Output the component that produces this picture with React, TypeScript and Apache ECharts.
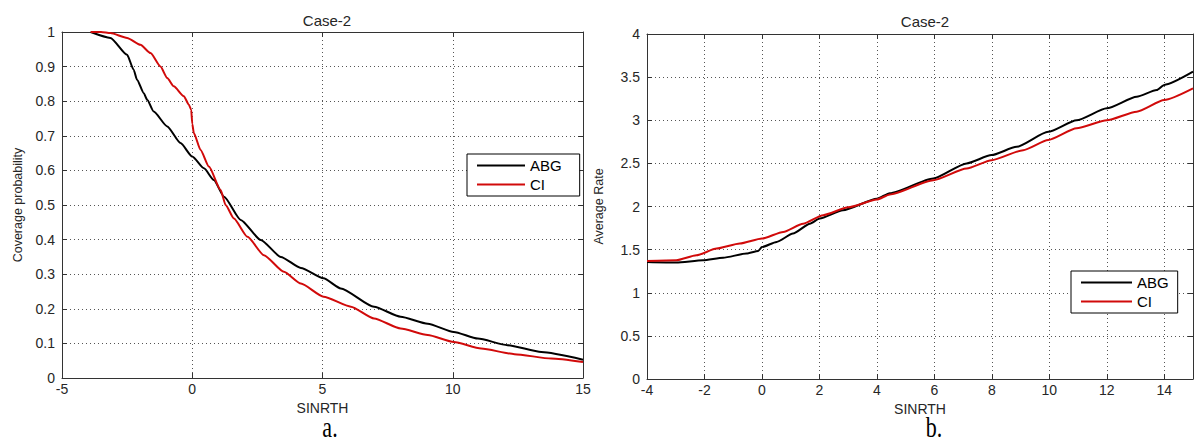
import React, { useEffect, useRef } from "react";
import * as echarts from "echarts";

// ---- Chart a: Coverage probability vs SINRTH ----
const covAbgX = [-3.9, -3.14, -2.5, -2.25, -2.12, -1.86, -1.73, -1.48, -0.96, -0.45, 0, 0.45, 0.83, 1.22, 1.86, 2.63, 3.4, 4.17, 5.04, 5.7, 6.98, 8.0, 9.04, 10.04, 10.96, 12.1, 13.4, 15];
const covAbgY = [1.0, 0.983, 0.934, 0.891, 0.862, 0.823, 0.804, 0.77, 0.727, 0.679, 0.64, 0.606, 0.572, 0.524, 0.457, 0.399, 0.35, 0.318, 0.288, 0.259, 0.206, 0.177, 0.157, 0.133, 0.114, 0.095, 0.075, 0.053];
const covCiX = [-3.9, -3.5, -3.14, -2.5, -1.99, -1.6, -1.22, -0.96, -0.71, -0.32, -0.13, -0.04, 0, 0.06, 0.32, 0.64, 1.09, 1.28, 1.6, 2.12, 2.75, 3.52, 4.17, 5.04, 6.09, 6.98, 8.0, 9.04, 10.04, 11.09, 12.37, 13.78, 15];
const covCiY = [1.0, 1.0, 0.997, 0.983, 0.963, 0.939, 0.9, 0.867, 0.843, 0.814, 0.79, 0.775, 0.735, 0.708, 0.659, 0.611, 0.543, 0.5, 0.461, 0.408, 0.355, 0.307, 0.273, 0.235, 0.206, 0.172, 0.143, 0.124, 0.104, 0.085, 0.069, 0.056, 0.046];

// ---- Chart b: Average Rate vs SINRTH ----
const rateAbgX = [-4, -2.98, -2.05, -1.35, -0.54, -0.13, 0, 0.51, 1.08, 1.67, 2.01, 2.82, 4.0, 4.45, 5.96, 7.12, 7.99, 8.86, 9.96, 10.95, 12.0, 13.04, 13.74, 14.0, 15];
const rateAbgY = [1.357, 1.35, 1.376, 1.407, 1.454, 1.484, 1.53, 1.589, 1.686, 1.8, 1.86, 1.957, 2.09, 2.155, 2.325, 2.5, 2.596, 2.692, 2.866, 3.0, 3.138, 3.273, 3.35, 3.41, 3.563];
const rateCiX = [-4, -2.98, -2.28, -1.58, -0.77, 0, 0.74, 1.43, 2.13, 3.0, 4.0, 4.45, 5.96, 7.12, 7.99, 9.09, 9.96, 10.95, 12.0, 13.04, 14.0, 15];
const rateCiY = [1.368, 1.376, 1.434, 1.512, 1.57, 1.628, 1.705, 1.8, 1.9, 1.99, 2.08, 2.14, 2.305, 2.44, 2.537, 2.653, 2.77, 2.906, 3.0, 3.1, 3.235, 3.37];

const seriesNames = ["ABG", "CI"];
const titles = ["Case-2", "Case-2"];
const xAxisName = "SINRTH";
const yAxisNames = ["Coverage probability", "Average Rate"];
const captions = ["a.", "b."];

const zip = (xs: number[], ys: number[]) => xs.map((x, i) => [x, ys[i]]);

const FONT = "Liberation Sans, Arial, sans-serif";
const SERIF = "Liberation Serif, Times New Roman, serif";
const TXT = "#262626";
const AXIS = "#333333";
const BLACK = "#000000";
const RED = "#d10a0a";

function App() {
  const ref = useRef<HTMLDivElement>(null);

  useEffect(() => {
    document.body.style.margin = "0";
    if (!ref.current) return;
    const chart = echarts.init(ref.current, undefined, { renderer: "svg" });

    const splitLine = { show: true, lineStyle: { color: "#555", type: [1, 3] as any, width: 1 } };
    const tick = { show: true, inside: true, length: 5, lineStyle: { color: AXIS } };
    const line = { show: true, onZero: false, lineStyle: { color: AXIS, width: 1 } };
    const label = { color: TXT, fontSize: 14, fontFamily: FONT };

    const xMain = (grid: number, min: number, max: number, interval: number) => ({
      type: "value", gridIndex: grid, min, max, interval, position: "bottom",
      axisLine: line, axisTick: tick, splitLine,
      axisLabel: { ...label, margin: 4, showMaxLabel: grid === 0 },
      name: xAxisName, nameLocation: "middle", nameGap: 20,
      nameTextStyle: { color: TXT, fontSize: 14, fontFamily: FONT },
    });
    const xTop = (grid: number, min: number, max: number, interval: number) => ({
      type: "value", gridIndex: grid, min, max, interval, position: "top",
      axisLine: line, axisTick: tick, splitLine: { show: false }, axisLabel: { show: false },
    });
    const yMain = (grid: number, min: number, max: number, interval: number, gap: number) => ({
      type: "value", gridIndex: grid, min, max, interval, position: "left",
      axisLine: line, axisTick: tick, splitLine,
      axisLabel: { ...label, margin: 7 },
      name: yAxisNames[grid], nameLocation: "middle", nameGap: gap,
      nameTextStyle: { color: TXT, fontSize: 12.5, fontFamily: FONT },
    });
    const yRight = (grid: number, min: number, max: number, interval: number) => ({
      type: "value", gridIndex: grid, min, max, interval, position: "right",
      axisLine: line, axisTick: tick, splitLine: { show: false }, axisLabel: { show: false },
    });

    const lineSeries = (name: string, data: number[][], color: string, idx: number) => ({
      type: "line", name, data, xAxisIndex: idx, yAxisIndex: idx,
      showSymbol: false, symbol: "none", smooth: 0.2, smoothMonotone: "x",
      lineStyle: { color, width: 2 }, itemStyle: { color }, z: 5,
    });

    const legendBase = {
      orient: "vertical", icon: "rect", itemWidth: 48, itemHeight: 2, itemGap: 4,
      borderColor: "#000", borderWidth: 1, backgroundColor: "#fff",
      textStyle: { color: BLACK, fontSize: 15, fontFamily: FONT },
      data: seriesNames, selectedMode: false,
    };

    const caption = (text: string, x: number) => ({
      type: "text", x, y: 427, scaleY: 1.3,
      style: { text, fill: BLACK, fontSize: 22, fontFamily: SERIF, textAlign: "center", textVerticalAlign: "middle" },
    });

    chart.setOption({
      animation: false,
      backgroundColor: "#fff",
      title: [
        { text: titles[0], left: 322, top: 8, textAlign: "center", textStyle: { color: TXT, fontSize: 15, fontWeight: "normal", fontFamily: FONT } },
        { text: titles[1], left: 920, top: 9, textAlign: "center", textStyle: { color: TXT, fontSize: 15, fontWeight: "normal", fontFamily: FONT } },
      ],
      grid: [
        { left: 62, top: 32, width: 521, height: 346 },
        { left: 647, top: 34, width: 546, height: 345 },
      ],
      xAxis: [xMain(0, -5, 15, 5), xTop(0, -5, 15, 5), xMain(1, -4, 15, 2), xTop(1, -4, 15, 2)],
      yAxis: [yMain(0, 0, 1, 0.1, 38), yRight(0, 0, 1, 0.1), yMain(1, 0, 4, 0.5, 42), yRight(1, 0, 4, 0.5)],
      legend: [
        { ...legendBase, left: 467, top: 154, padding: [4, 18, 4, 10] },
        { ...legendBase, left: 1071, top: 271, padding: [4, 9, 4, 10], itemWidth: 51 },
      ],
      series: [
        lineSeries(seriesNames[0], zip(covAbgX, covAbgY), BLACK, 0),
        lineSeries(seriesNames[1], zip(covCiX, covCiY), RED, 0),
        lineSeries(seriesNames[0], zip(rateAbgX, rateAbgY), BLACK, 2),
        lineSeries(seriesNames[1], zip(rateCiX, rateCiY), RED, 2),
      ],
      graphic: [caption(captions[0], 330), caption(captions[1], 934)],
    });

    return () => chart.dispose();
  }, []);

  return <div ref={ref} style={{ width: 1195, height: 443 }} />;
}

export default App;
